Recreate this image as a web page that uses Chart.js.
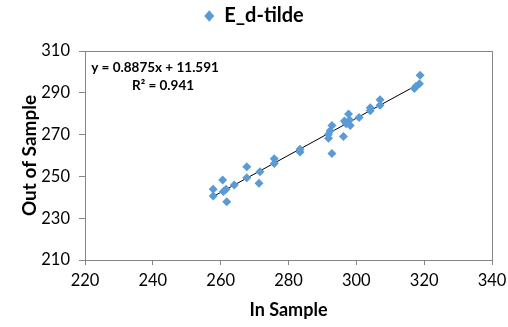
<!DOCTYPE html>
<html>
<head>
<meta charset="utf-8">
<script src="https://cdn.jsdelivr.net/npm/chart.js@4.4.0/dist/chart.umd.min.js"></script>
<style>
  html, body { margin: 0; padding: 0; background: #fff; }
  #wrap { width: 508px; height: 327px; }
</style>
</head>
<body>
<div id="wrap"><canvas id="chartScatter"></canvas></div>
<script>
// In Sample (x) and Out of Sample (y)
const inSample = [257.8, 257.8, 260.6, 260.8, 261.6, 261.8, 264.0, 267.7, 267.7, 271.3,
    271.6, 275.8, 275.8, 283.4, 283.4, 291.8, 291.8, 292.3, 292.8, 292.8,
    296.2, 296.5, 297.0, 297.7, 298.2, 298.0, 300.8, 304.1, 304.1, 307.0,
    307.0, 317.1, 317.6, 318.6, 318.8];
const outSample = [243.9, 240.6, 248.3, 242.8, 243.9, 237.9, 245.9, 249.4, 254.6, 246.7,
    252.2, 256.2, 258.4, 261.7, 263.0, 268.3, 270.2, 271.8, 274.3, 260.9,
    269.1, 276.5, 275.2, 279.8, 274.3, 277.0, 278.2, 281.4, 282.8, 284.1,
    286.7, 292.0, 293.1, 294.3, 298.4];

const xTicks = [220, 240, 260, 280, 300, 320, 340];
const yTicks = [210, 230, 250, 270, 290, 310];

// linear trendline as printed on the chart
const slope = 0.8875;
const intercept = 11.591;
const trendX = [Math.min(...inSample), Math.max(...inSample)];

const points = inSample.map((x, i) => ({ x: x, y: outSample[i] }));
const trendPoints = trendX.map(x => ({ x: x, y: slope * x + intercept }));

// extra room under the legend
const legendGap = {
    id: 'legendGap',
    beforeInit(chart) {
        const fit = chart.legend.fit;
        chart.legend.fit = function () {
            fit.bind(chart.legend)();
            this.height += 15;
        };
    }
};

const boxPlugin = {
    id: 'boxAndLabel',
    afterDraw(chart) {
        const { ctx, chartArea: a } = chart;
        ctx.save();
        ctx.strokeStyle = '#868686';
        ctx.lineWidth = 1;
        ctx.strokeRect(Math.round(a.left) + 0.5, Math.round(a.top) + 0.5,
            Math.round(a.right - a.left), Math.round(a.bottom - a.top));
        ctx.fillStyle = '#000';
        ctx.font = 'bold 13.5px Lato';
        ctx.textAlign = 'center';
        ctx.textBaseline = 'middle';
        ctx.fillText('y = 0.8875x + 11.591', a.left + 70, a.top + 17);
        ctx.fillText('R² = 0.941', a.left + 78, a.top + 35);
        ctx.restore();
    }
};

const ctx = document.getElementById('chartScatter').getContext('2d');
new Chart(ctx, {
    type: 'scatter',
    data: {
        datasets: [{
            label: 'E_d-tilde',
            data: points,
            pointStyle: 'rectRot',
            pointRadius: 4.5,
            backgroundColor: '#5B9BD5',
            borderColor: '#5B9BD5',
            borderWidth: 0
        }, {
            label: 'trend',
            type: 'line',
            data: trendPoints,
            borderColor: '#000',
            borderWidth: 1,
            pointRadius: 0,
            fill: false
        }]
    },
    options: {
        responsive: true,
        maintainAspectRatio: false,
        animation: false,
        layout: { padding: 0 },
        plugins: {
            legend: {
                display: true,
                labels: {
                    filter: item => item.text === 'E_d-tilde',
                    usePointStyle: true,
                    pointStyleWidth: 10,
                    boxHeight: 8,
                    color: '#000',
                    font: { family: 'Lato', size: 20, weight: 'bold' },
                    padding: 6
                }
            },
            tooltip: { enabled: false }
        },
        scales: {
            x: {
                type: 'linear',
                min: 220,
                max: 340,
                afterBuildTicks: s => { s.ticks = xTicks.map(v => ({ value: v })); },
                afterFit: s => { s.height = 67; s.paddingRight = 16; s.paddingLeft = 0; },
                grid: { drawOnChartArea: false, tickLength: 5, color: '#868686' },
                border: { color: '#868686' },
                ticks: { color: '#000', padding: 6, font: { family: 'Lato', size: 16.5 } },
                title: {
                    display: true, text: 'In Sample', color: '#000',
                    font: { family: 'Lato', size: 18, weight: 'bold' }, padding: { bottom: 6 }
                }
            },
            y: {
                type: 'linear',
                min: 210,
                max: 310,
                afterBuildTicks: s => { s.ticks = yTicks.map(v => ({ value: v })); },
                afterFit: s => { s.width = 85; },
                grid: { drawOnChartArea: false, tickLength: 6, color: '#868686' },
                border: { color: '#868686' },
                ticks: { color: '#000', padding: 9, font: { family: 'Lato', size: 16.5 } },
                title: {
                    display: true, text: 'Out of Sample', color: '#000',
                    font: { family: 'Lato', size: 19, weight: 'bold' }, padding: { top: 18 }
                }
            }
        }
    },
    plugins: [legendGap, boxPlugin]
});
</script>
</body>
</html>
